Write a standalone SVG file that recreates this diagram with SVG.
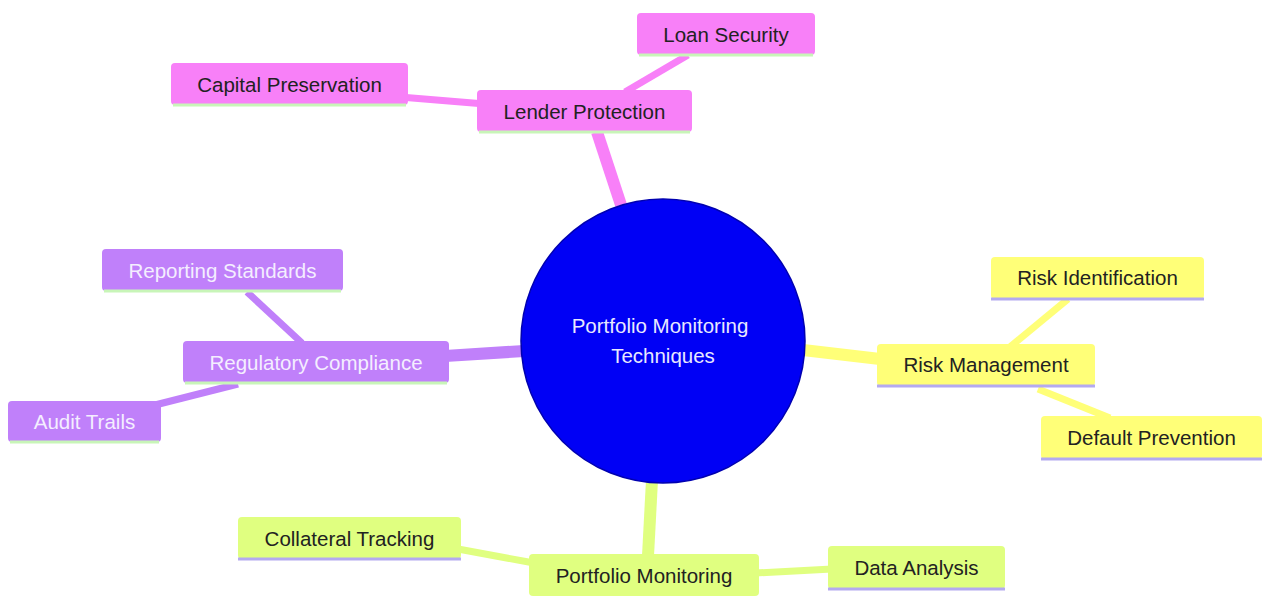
<svg xmlns="http://www.w3.org/2000/svg" width="1263" height="596" viewBox="0 0 1263 596">
<style>
text{font-family:"Liberation Sans",Arial,sans-serif;font-size:20.5px;text-anchor:middle;dominant-baseline:central}
.e{fill:none;stroke-linecap:butt}
.m{stroke-width:12}
.s{stroke-width:7}
.pk{fill:#f880f8}.pkl{stroke:#f880f8}
.pu{fill:#c080fa}.pul{stroke:#c080fa}
.ye{fill:#ffff78}.yel{stroke:#ffff78}
.gr{fill:#e0ff80}.grl{stroke:#e0ff80}
.bl1{stroke:#c8f5b8;stroke-width:3}
.bl2{stroke:#b4aaf0;stroke-width:3}
.dk{fill:#222}
.wt{fill:#f4eeff}
</style>
<rect width="1263" height="596" fill="#ffffff"/>
<g id="connectors">
<line class="e m pkl" x1="597" y1="132" x2="621" y2="205"/>
<line class="e s pkl" x1="400" y1="97" x2="485" y2="104"/>
<line class="e s pkl" x1="688" y1="55" x2="625" y2="92"/>
<line class="e m pul" x1="445" y1="356" x2="524" y2="351"/>
<line class="e s pul" x1="247" y1="292" x2="302" y2="343"/>
<line class="e s pul" x1="155" y1="405" x2="238" y2="384"/>
<line class="e m yel" x1="803" y1="350" x2="880" y2="359"/>
<line class="e s yel" x1="1068" y1="299" x2="1010" y2="347"/>
<line class="e s yel" x1="1038" y1="389" x2="1110" y2="418"/>
<line class="e m grl" x1="652" y1="480" x2="648" y2="556"/>
<line class="e s grl" x1="458" y1="549" x2="534" y2="563"/>
<line class="e s grl" x1="755" y1="573" x2="832" y2="569"/>
</g>
<g id="root">
<circle cx="663" cy="341" r="142" fill="#0000f5" stroke="#0000b0" stroke-width="1.5"/>
<text x="660" y="325" fill="#e8e8ff">Portfolio Monitoring</text>
<text x="663" y="355" fill="#e8e8ff">Techniques</text>
</g>
<g id="lender-protection">
<rect class="pk" x="477" y="90" width="215" height="42" rx="4"/>
<line class="bl1" x1="479" y1="132" x2="690" y2="132"/>
<text class="dk" x="584.5" y="111">Lender Protection</text>
</g>
<g id="loan-security">
<rect class="pk" x="637" y="13" width="178" height="42" rx="4"/>
<line class="bl1" x1="639" y1="55" x2="813" y2="55"/>
<text class="dk" x="726" y="34">Loan Security</text>
</g>
<g id="capital-preservation">
<rect class="pk" x="171" y="63" width="237" height="42" rx="4"/>
<line class="bl1" x1="173" y1="105" x2="406" y2="105"/>
<text class="dk" x="289.5" y="84">Capital Preservation</text>
</g>
<g id="regulatory-compliance">
<rect class="pu" x="183" y="341" width="266" height="42" rx="4"/>
<line class="bl1" x1="185" y1="383" x2="447" y2="383"/>
<text class="wt" x="316" y="362">Regulatory Compliance</text>
</g>
<g id="reporting-standards">
<rect class="pu" x="102" y="249" width="241" height="42" rx="4"/>
<line class="bl1" x1="104" y1="291" x2="341" y2="291"/>
<text class="wt" x="222.5" y="270">Reporting Standards</text>
</g>
<g id="audit-trails">
<rect class="pu" x="8" y="401" width="153" height="41" rx="4"/>
<line class="bl1" x1="10" y1="442" x2="159" y2="442"/>
<text class="wt" x="84.5" y="421.5">Audit Trails</text>
</g>
<g id="risk-management">
<rect class="ye" x="877" y="344" width="218" height="42" rx="4"/>
<line class="bl2" x1="877" y1="386" x2="1095" y2="386"/>
<text class="dk" x="986" y="364">Risk Management</text>
</g>
<g id="risk-identification">
<rect class="ye" x="991" y="257" width="213" height="42" rx="4"/>
<line class="bl2" x1="991" y1="299" x2="1204" y2="299"/>
<text class="dk" x="1097.5" y="277">Risk Identification</text>
</g>
<g id="default-prevention">
<rect class="ye" x="1041" y="416" width="221" height="43" rx="4"/>
<line class="bl2" x1="1041" y1="459" x2="1262" y2="459"/>
<text class="dk" x="1151.5" y="437">Default Prevention</text>
</g>
<g id="portfolio-monitoring">
<rect class="gr" x="529" y="554" width="230" height="42" rx="4"/>
<text class="dk" x="644" y="575">Portfolio Monitoring</text>
</g>
<g id="collateral-tracking">
<rect class="gr" x="238" y="517" width="223" height="42" rx="4"/>
<line class="bl2" x1="238" y1="559" x2="461" y2="559"/>
<text class="dk" x="349.5" y="538">Collateral Tracking</text>
</g>
<g id="data-analysis">
<rect class="gr" x="828" y="546" width="177" height="43" rx="4"/>
<line class="bl2" x1="828" y1="589" x2="1005" y2="589"/>
<text class="dk" x="916.5" y="567">Data Analysis</text>
</g>
</svg>
